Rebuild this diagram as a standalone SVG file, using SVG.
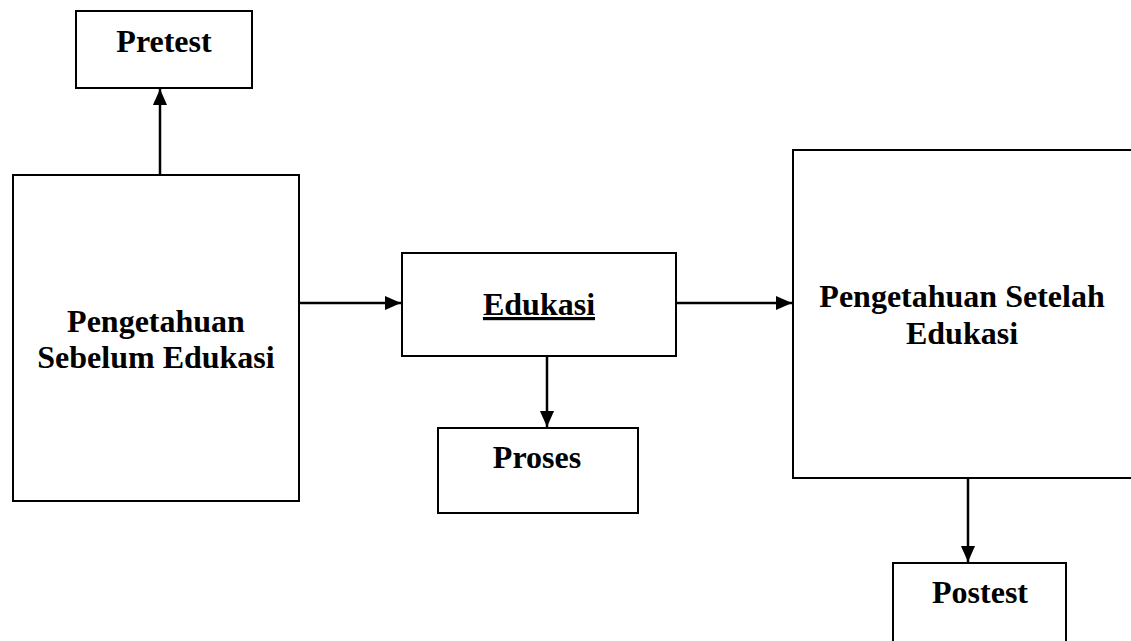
<svg xmlns="http://www.w3.org/2000/svg" width="1131" height="641" viewBox="0 0 1131 641">
<style>
.box{fill:#fff;stroke:#000;stroke-width:2}
.lbl{font-family:"Liberation Serif","Times New Roman",serif;font-weight:bold;font-size:32px;fill:#000;text-anchor:middle}
.conn{stroke:#000;stroke-width:2.5;fill:none}
</style>
<defs>
<marker id="ah" viewBox="0 0 10 10" refX="10" refY="5" markerWidth="16" markerHeight="16" markerUnits="userSpaceOnUse" orient="auto">
<path d="M0,0.6 L10,5 L0,9.4 Z" fill="#000"/>
</marker>
</defs>
<rect width="1131" height="641" fill="#fff"/>
<g id="connectors">
<line class="conn" x1="160" y1="175" x2="160" y2="89" marker-end="url(#ah)"/>
<line class="conn" x1="299" y1="303" x2="401" y2="303" marker-end="url(#ah)"/>
<line class="conn" x1="676" y1="303" x2="792" y2="303" marker-end="url(#ah)"/>
<line class="conn" x1="547" y1="356" x2="547" y2="427" marker-end="url(#ah)"/>
<line class="conn" x1="968" y1="478" x2="968" y2="562" marker-end="url(#ah)"/>
</g>
<g id="pretest">
<rect class="box" x="76" y="11" width="176" height="77"/>
<text class="lbl" x="164" y="52">Pretest</text>
</g>
<g id="sebelum">
<rect class="box" x="13" y="175" width="286" height="326"/>
<text class="lbl" x="156" y="332">Pengetahuan</text>
<text class="lbl" x="156" y="368">Sebelum Edukasi</text>
</g>
<g id="edukasi">
<rect class="box" x="402" y="253" width="274" height="103"/>
<text class="lbl" x="539" y="315" text-decoration="underline">Edukasi</text>
</g>
<g id="proses">
<rect class="box" x="438" y="428" width="200" height="85"/>
<text class="lbl" x="537" y="468">Proses</text>
</g>
<g id="setelah">
<rect class="box" x="793" y="150" width="345" height="328"/>
<text class="lbl" x="962" y="307">Pengetahuan Setelah</text>
<text class="lbl" x="962" y="344">Edukasi</text>
</g>
<g id="postest">
<rect class="box" x="893" y="563" width="173" height="90"/>
<text class="lbl" x="980" y="603">Postest</text>
</g>
</svg>
